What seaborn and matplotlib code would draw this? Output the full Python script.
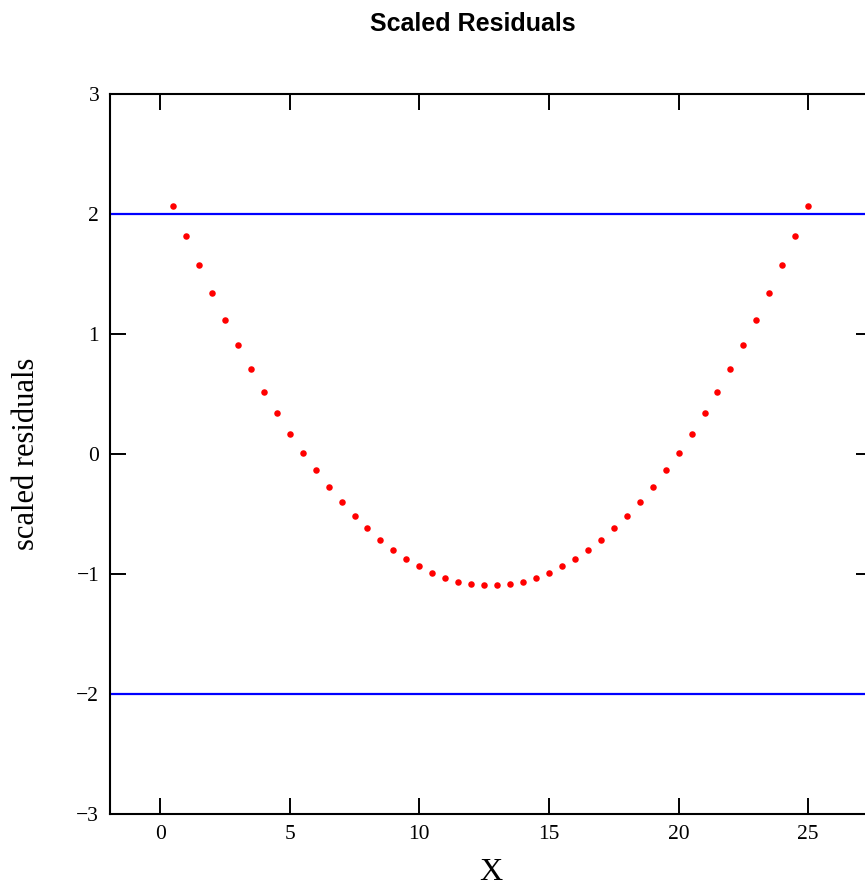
import numpy as np
import pandas as pd
import matplotlib
matplotlib.use("Agg")
import matplotlib.pyplot as plt
import seaborn as sns

# data
x_vals = [0.5, 1.0, 1.5, 2.0, 2.5, 3.0, 3.5, 4.0, 4.5, 5.0,
          5.5, 6.0, 6.5, 7.0, 7.5, 8.0, 8.5, 9.0, 9.5, 10.0,
          10.5, 11.0, 11.5, 12.0, 12.5, 13.0, 13.5, 14.0, 14.5, 15.0,
          15.5, 16.0, 16.5, 17.0, 17.5, 18.0, 18.5, 19.0, 19.5, 20.0,
          20.5, 21.0, 21.5, 22.0, 22.5, 23.0, 23.5, 24.0, 24.5, 25.0]
resid = [2.068, 1.814, 1.572, 1.338, 1.119, 0.907, 0.707, 0.518, 0.340, 0.169,
         0.011, -0.136, -0.273, -0.401, -0.515, -0.620, -0.715, -0.801, -0.874, -0.937,
         -0.991, -1.032, -1.066, -1.085, -1.096, -1.096, -1.085, -1.066, -1.032, -0.991,
         -0.937, -0.874, -0.801, -0.715, -0.620, -0.515, -0.401, -0.273, -0.136, 0.011,
         0.169, 0.340, 0.518, 0.707, 0.907, 1.119, 1.338, 1.572, 1.814, 2.068]
limits = [-2, 2]
x_ticks = [0, 5, 10, 15, 20, 25]
y_ticks = [-3, -2, -1, 0, 1, 2, 3]

sns.set_style("ticks")
plt.rcParams['font.family'] = ['Liberation Serif', 'DejaVu Serif']
plt.rcParams['axes.unicode_minus'] = True
plt.rcParams['text.color'] = 'black'
plt.rcParams['axes.labelcolor'] = 'black'

fig = plt.figure(figsize=(8.65, 8.89), dpi=100)
ax = fig.add_axes([110.3 / 865, 75.3 / 889, 761.7 / 865, 719.7 / 889])

df = pd.DataFrame({'x': x_vals, 'resid': resid})
sns.scatterplot(data=df, x='x', y='resid', ax=ax, color='#ff0000',
                s=22, linewidth=0, zorder=3)
for lim in limits:
    ax.axhline(lim, color='#0000ff', lw=1.6, zorder=2)

ax.set_xlim(-1.92, 27.46)
ax.set_ylim(-3, 3)
ax.set_xticks(x_ticks)
ax.set_yticks(y_ticks)
ax.tick_params(direction='in', length=11.5, width=1.4, top=True, right=True,
               labelsize=15.5, pad=8, colors='black')
for sp in ax.spines.values():
    sp.set_visible(True)
    sp.set_linewidth(1.5)
    sp.set_color('black')

ax.set_xlabel('X', fontsize=23, va='center', color='black')
ax.xaxis.set_label_coords(0.5, (813.7 - 873) / 719.7)
ax.set_ylabel('scaled residuals', fontsize=22, va='center', color='black')
ax.yaxis.set_label_coords((27 - 110.3) / 761.7, 0.5)

fig.text(473 / 865, 1 - 24 / 889, 'Scaled Residuals', ha='center', va='center',
         family='Liberation Sans', weight='bold', fontsize=18, color='black')

fig.savefig('out.png', dpi=100)
